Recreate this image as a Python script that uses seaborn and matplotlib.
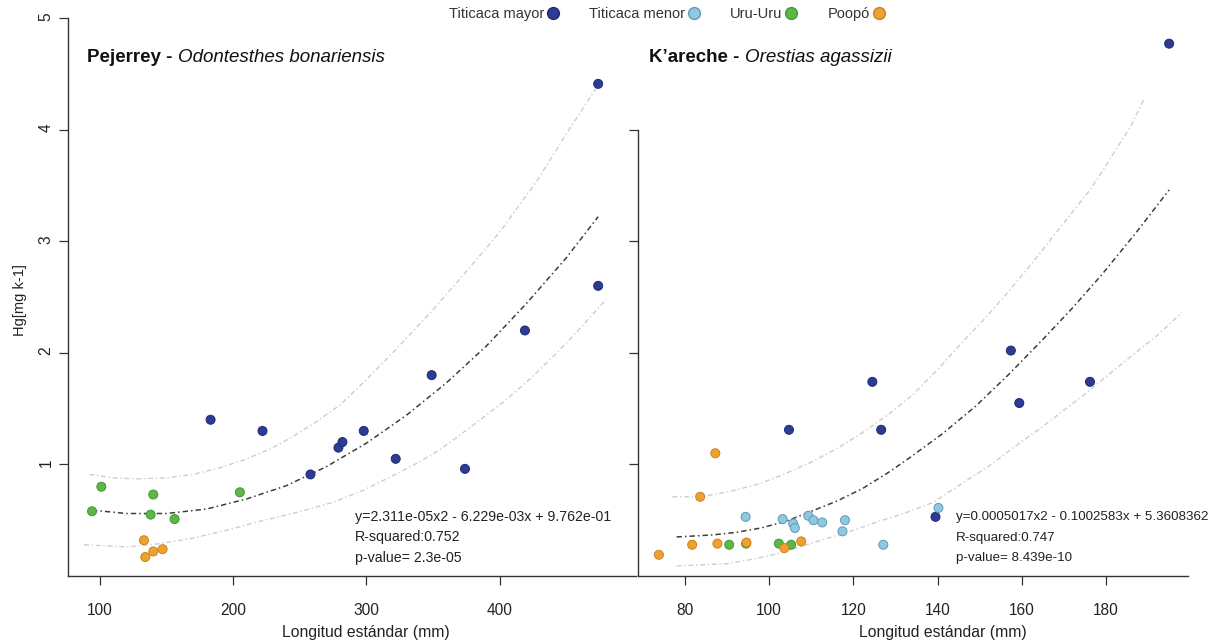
#Hg vs longitud estandar, pejerrey y k'areche
import pandas as pd
import matplotlib
matplotlib.use("Agg")
import matplotlib.pyplot as plt
from matplotlib.lines import Line2D
import seaborn as sns

# --- Pejerrey (Odontesthes bonariensis) ---
peje_mayor_x = [183, 222, 258, 279, 282, 298, 322, 349, 374, 419, 474, 474]
peje_mayor_y = [1.40, 1.30, 0.91, 1.15, 1.20, 1.30, 1.05, 1.80, 0.96, 2.20, 2.60, 4.41]
peje_uru_x = [94, 101, 138, 140, 156, 205]
peje_uru_y = [0.58, 0.80, 0.55, 0.73, 0.51, 0.75]
peje_poopo_x = [133, 134, 140, 147]
peje_poopo_y = [0.32, 0.17, 0.22, 0.24]

peje_fit_x = [94, 120, 150, 180, 210, 240, 270, 300, 330, 360, 390, 420, 450, 474]
peje_fit_y = [0.59, 0.56, 0.56, 0.60, 0.69, 0.81, 0.98, 1.19, 1.44, 1.73, 2.06, 2.44, 2.85, 3.22]
peje_up_x = [92, 110, 127, 150, 170, 190, 208, 228, 245, 262, 280, 300, 323, 348, 373, 400, 428, 450, 474]
peje_up_y = [0.91, 0.88, 0.87, 0.88, 0.91, 0.97, 1.04, 1.14, 1.25, 1.38, 1.53, 1.76, 2.04, 2.36, 2.70, 3.08, 3.54, 3.96, 4.40]
peje_lo_x = [88, 105, 120, 145, 170, 195, 220, 248, 275, 298, 320, 338, 355, 380, 405, 425, 443, 462, 480]
peje_lo_y = [0.28, 0.27, 0.26, 0.29, 0.34, 0.41, 0.49, 0.57, 0.66, 0.77, 0.90, 1.01, 1.13, 1.35, 1.58, 1.79, 2.00, 2.24, 2.48]

# --- K'areche (Orestias agassizii) ---
kar_mayor_x = [104.7, 124.5, 126.6, 139.5, 157.4, 159.4, 176.2, 195.0]
kar_mayor_y = [1.31, 1.74, 1.31, 0.53, 2.02, 1.55, 1.74, 4.77]
kar_menor_x = [94.4, 103.2, 105.7, 106.1, 109.3, 110.5, 112.6, 117.4, 118.0, 127.1, 140.2]
kar_menor_y = [0.53, 0.51, 0.47, 0.43, 0.54, 0.50, 0.48, 0.40, 0.50, 0.28, 0.61]
kar_uru_x = [90.5, 94.5, 102.3, 105.2]
kar_uru_y = [0.28, 0.29, 0.29, 0.28]
kar_poopo_x = [73.8, 81.7, 83.6, 87.2, 87.7, 94.6, 103.6, 107.6]
kar_poopo_y = [0.19, 0.28, 0.71, 1.10, 0.29, 0.30, 0.25, 0.31]

kar_fit_x = [78, 83, 87, 92, 98, 104, 110, 116, 122, 128, 133, 141, 149, 157, 165, 172, 179, 187, 195]
kar_fit_y = [0.35, 0.36, 0.37, 0.39, 0.43, 0.49, 0.58, 0.67, 0.78, 0.92, 1.05, 1.27, 1.52, 1.81, 2.12, 2.40, 2.70, 3.07, 3.46]
kar_up_x = [77, 82, 87, 92, 98, 104, 110, 116, 122, 128, 134, 140, 146, 152, 158, 163, 168, 172, 176, 179, 182, 186, 189]
kar_up_y = [0.71, 0.71, 0.73, 0.77, 0.83, 0.92, 1.02, 1.14, 1.28, 1.44, 1.62, 1.85, 2.10, 2.34, 2.60, 2.83, 3.07, 3.26, 3.45, 3.62, 3.80, 4.04, 4.27]
kar_lo_x = [78, 84, 90, 96, 102, 108, 114, 120, 126, 132, 139, 145, 152, 158, 165, 175, 185, 192, 198]
kar_lo_y = [0.09, 0.10, 0.11, 0.15, 0.20, 0.27, 0.34, 0.41, 0.49, 0.56, 0.66, 0.81, 0.98, 1.15, 1.34, 1.63, 1.94, 2.15, 2.36]

lagos = ["Titicaca mayor", "Titicaca menor", "Uru-Uru", "Poopó"]
colores = {"Titicaca mayor": "#2c3b94", "Titicaca menor": "#8fc8df",
           "Uru-Uru": "#5cb747", "Poopó": "#efa12f"}
bordes = {"Titicaca mayor": "#1f2b70", "Titicaca menor": "#5f9ab5",
          "Uru-Uru": "#3f9a32", "Poopó": "#c9831c"}

peje = pd.concat([
    pd.DataFrame({"x": peje_mayor_x, "y": peje_mayor_y, "lago": "Titicaca mayor"}),
    pd.DataFrame({"x": peje_uru_x, "y": peje_uru_y, "lago": "Uru-Uru"}),
    pd.DataFrame({"x": peje_poopo_x, "y": peje_poopo_y, "lago": "Poopó"}),
], ignore_index=True)
kar = pd.concat([
    pd.DataFrame({"x": kar_mayor_x, "y": kar_mayor_y, "lago": "Titicaca mayor"}),
    pd.DataFrame({"x": kar_menor_x, "y": kar_menor_y, "lago": "Titicaca menor"}),
    pd.DataFrame({"x": kar_uru_x, "y": kar_uru_y, "lago": "Uru-Uru"}),
    pd.DataFrame({"x": kar_poopo_x, "y": kar_poopo_y, "lago": "Poopó"}),
], ignore_index=True)

sns.set_style("white")
plt.rcParams["font.family"] = ["Liberation Sans", "DejaVu Sans"]

fig = plt.figure(figsize=(12.17, 6.44), dpi=100)
W, H = 1217, 644
ax1 = fig.add_axes([68 / W, 1 - 576 / H, 568 / W, 558 / H])
ax2 = fig.add_axes([638 / W, 1 - 576 / H, 550 / W, 558 / H])

dash = (0, (3.5, 2.0, 1.0, 2.0))


def panel(ax, df, fit, up, lo):
    sns.lineplot(x=up[0], y=up[1], ax=ax, color="#cdcdcd", lw=1.0, linestyle=dash,
                 sort=False, estimator=None, zorder=1)
    sns.lineplot(x=lo[0], y=lo[1], ax=ax, color="#cdcdcd", lw=1.0, linestyle=dash,
                 sort=False, estimator=None, zorder=1)
    sns.lineplot(x=fit[0], y=fit[1], ax=ax, color="#3d3d3d", lw=1.1, linestyle=dash,
                 sort=False, estimator=None, zorder=2)
    sns.scatterplot(data=df, x="x", y="y", hue="lago", palette=colores, ax=ax,
                    s=42, linewidth=0.7, edgecolor=df["lago"].map(bordes).tolist(),
                    legend=False, zorder=3)
    ax.set_ylim(0, 5)
    ax.set_xlabel("")
    ax.set_ylabel("")
    for s in ["top", "right"]:
        ax.spines[s].set_visible(False)
    for s in ["left", "bottom"]:
        ax.spines[s].set_color("#333333")
        ax.spines[s].set_linewidth(1.0)
    ax.tick_params(direction="out", length=6.5, width=0.9, color="#333333",
                   labelsize=11.2, labelcolor="#222222", left=True, bottom=True)
    ax.tick_params(axis="x", pad=13)


panel(ax1, peje, (peje_fit_x, peje_fit_y), (peje_up_x, peje_up_y), (peje_lo_x, peje_lo_y))
panel(ax2, kar, (kar_fit_x, kar_fit_y), (kar_up_x, kar_up_y), (kar_lo_x, kar_lo_y))

ax1.set_xlim(100 - 32 / 1.332, 100 + 536 / 1.332)
ax1.set_xticks([100, 200, 300, 400])
ax1.set_yticks([1, 2, 3, 4, 5])
ax1.spines["left"].set_bounds(0, 5)
ax1.tick_params(axis="y", labelrotation=90, pad=4)

ax2.set_xlim(80 - 47 / 4.21, 80 + 503 / 4.21)
ax2.set_xticks([80, 100, 120, 140, 160, 180])
ax2.set_yticks([1, 2, 3, 4])
ax2.set_yticklabels([])
ax2.spines["left"].set_bounds(0, 4)

# titulos de especie
t1 = fig.text(87 / W, 1 - 57 / H, "Pejerrey - ", fontsize=13.5, fontweight="bold",
              va="center", ha="left", color="#111111")
fig.add_artist(plt.Annotation("Odontesthes bonariensis", xy=(1, 0.5), xycoords=t1,
                              va="center", ha="left", fontsize=13.5,
                              fontstyle="italic", color="#111111"))
t2 = fig.text(649 / W, 1 - 57 / H, "K\u2019areche - ", fontsize=13.5, fontweight="bold",
              va="center", ha="left", color="#111111")
fig.add_artist(plt.Annotation("Orestias agassizii", xy=(1, 0.5), xycoords=t2,
                              va="center", ha="left", fontsize=13.5,
                              fontstyle="italic", color="#111111"))

# ecuaciones
eq1 = ["y=2.311e-05x2 - 6.229e-03x + 9.762e-01", "R-squared:0.752", "p-value= 2.3e-05"]
eq2 = ["y=0.0005017x2 - 0.1002583x + 5.3608362", "R-squared:0.747", "p-value= 8.439e-10"]
for i, (a, b) in enumerate(zip(eq1, eq2)):
    yy = 1 - (517 + 20.5 * i) / H
    fig.text(355 / W, yy, a, fontsize=10.2, color="#222222", va="center", ha="left")
    fig.text(956 / W, yy, b, fontsize=9.6, color="#222222", va="center", ha="left")

# ejes
fig.text(366 / W, 1 - 633 / H, "Longitud estándar (mm)", fontsize=11.3,
         color="#222222", ha="center", va="center")
fig.text(943 / W, 1 - 633 / H, "Longitud estándar (mm)", fontsize=11.3,
         color="#222222", ha="center", va="center")
fig.text(20 / W, 1 - 300 / H, "Hg[mg k-1]", fontsize=10.5, color="#222222",
         rotation=90, ha="center", va="center")

# leyenda arriba
handles = [Line2D([0], [0], marker="o", linestyle="", markersize=8.5,
                  markerfacecolor=colores[l], markeredgecolor=bordes[l]) for l in lagos]
fig.legend(handles, lagos, loc="center", bbox_to_anchor=(666 / W, 1 - 14 / H),
           ncol=4, frameon=False, markerfirst=False, handlelength=0.6,
           handletextpad=0.3, columnspacing=2.2, prop={"size": 10.5},
           labelcolor="#333333")

fig.savefig("out.png", dpi=100, facecolor="white")
